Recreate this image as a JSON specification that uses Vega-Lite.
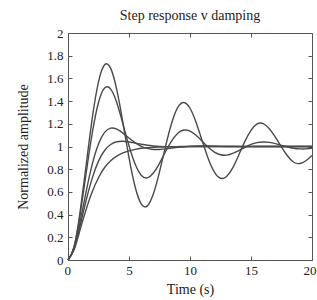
{
  "$schema": "https://vega.github.io/schema/vega-lite/v6.json",
  "width": 244,
  "height": 227,
  "autosize": {"type": "none"},
  "padding": {"left": 68, "top": 33, "right": 5, "bottom": 40},
  "background": "white",
  "title": {"text": "Step response v damping", "font": "Liberation Serif", "fontSize": 14, "fontWeight": "normal", "color": "#222", "offset": 4},
  "config": {
    "view": {"stroke": null},
    "axis": {"labelFont": "Liberation Serif", "titleFont": "Liberation Serif", "labelFontSize": 13, "titleFontSize": 14, "titleFontWeight": "normal", "labelColor": "#222", "titleColor": "#222", "domainColor": "#555", "tickColor": "#555", "grid": false}
  },
  "data": {"values": [
    {"t":0,"y":0,"z":"0.1"},{"t":0.5,"y":0.118,"z":"0.1"},{"t":1,"y":0.431,"z":"0.1"},{"t":1.5,"y":0.846,"z":"0.1"},{"t":2,"y":1.258,"z":"0.1"},{"t":2.5,"y":1.570,"z":"0.1"},{"t":3,"y":1.720,"z":"0.1"},{"t":3.5,"y":1.688,"z":"0.1"},{"t":4,"y":1.498,"z":"0.1"},{"t":4.5,"y":1.211,"z":"0.1"},{"t":5,"y":0.901,"z":"0.1"},{"t":5.5,"y":0.645,"z":"0.1"},{"t":6,"y":0.495,"z":"0.1"},{"t":6.5,"y":0.477,"z":"0.1"},{"t":7,"y":0.583,"z":"0.1"},{"t":7.5,"y":0.776,"z":"0.1"},{"t":8,"y":1.003,"z":"0.1"},{"t":8.5,"y":1.207,"z":"0.1"},{"t":9,"y":1.344,"z":"0.1"},{"t":9.5,"y":1.388,"z":"0.1"},{"t":10,"y":1.337,"z":"0.1"},{"t":10.5,"y":1.212,"z":"0.1"},{"t":11,"y":1.050,"z":"0.1"},{"t":11.5,"y":0.892,"z":"0.1"},{"t":12,"y":0.774,"z":"0.1"},{"t":12.5,"y":0.720,"z":"0.1"},{"t":13,"y":0.736,"z":"0.1"},{"t":13.5,"y":0.811,"z":"0.1"},{"t":14,"y":0.925,"z":"0.1"},{"t":14.5,"y":1.045,"z":"0.1"},{"t":15,"y":1.142,"z":"0.1"},{"t":15.5,"y":1.199,"z":"0.1"},{"t":16,"y":1.202,"z":"0.1"},{"t":16.5,"y":1.157,"z":"0.1"},{"t":17,"y":1.082,"z":"0.1"},{"t":17.5,"y":0.994,"z":"0.1"},{"t":18,"y":0.916,"z":"0.1"},{"t":18.5,"y":0.861,"z":"0.1"},{"t":19,"y":0.850,"z":"0.1"},{"t":19.5,"y":0.874,"z":"0.1"},{"t":20,"y":0.921,"z":"0.1"},
    {"t":0,"y":0,"z":"0.2"},{"t":0.5,"y":0.115,"z":"0.2"},{"t":1,"y":0.405,"z":"0.2"},{"t":1.5,"y":0.775,"z":"0.2"},{"t":2,"y":1.127,"z":"0.2"},{"t":2.5,"y":1.388,"z":"0.2"},{"t":3,"y":1.515,"z":"0.2"},{"t":3.5,"y":1.505,"z":"0.2"},{"t":4,"y":1.385,"z":"0.2"},{"t":4.5,"y":1.200,"z":"0.2"},{"t":5,"y":1.006,"z":"0.2"},{"t":5.5,"y":0.845,"z":"0.2"},{"t":6,"y":0.747,"z":"0.2"},{"t":6.5,"y":0.724,"z":"0.2"},{"t":7,"y":0.766,"z":"0.2"},{"t":7.5,"y":0.852,"z":"0.2"},{"t":8,"y":0.956,"z":"0.2"},{"t":8.5,"y":1.050,"z":"0.2"},{"t":9,"y":1.117,"z":"0.2"},{"t":9.5,"y":1.145,"z":"0.2"},{"t":10,"y":1.136,"z":"0.2"},{"t":10.5,"y":1.099,"z":"0.2"},{"t":11,"y":1.046,"z":"0.2"},{"t":11.5,"y":0.993,"z":"0.2"},{"t":12,"y":0.951,"z":"0.2"},{"t":12.5,"y":0.927,"z":"0.2"},{"t":13,"y":0.924,"z":"0.2"},{"t":13.5,"y":0.939,"z":"0.2"},{"t":14,"y":0.964,"z":"0.2"},{"t":14.5,"y":0.993,"z":"0.2"},{"t":15,"y":1.018,"z":"0.2"},{"t":15.5,"y":1.034,"z":"0.2"},{"t":16,"y":1.040,"z":"0.2"},{"t":16.5,"y":1.036,"z":"0.2"},{"t":17,"y":1.025,"z":"0.2"},{"t":17.5,"y":1.010,"z":"0.2"},{"t":18,"y":0.996,"z":"0.2"},{"t":18.5,"y":0.985,"z":"0.2"},{"t":19,"y":0.979,"z":"0.2"},{"t":19.5,"y":0.979,"z":"0.2"},{"t":20,"y":0.984,"z":"0.2"},
    {"t":0,"y":0,"z":"0.5"},{"t":0.5,"y":0.104,"z":"0.5"},{"t":1,"y":0.340,"z":"0.5"},{"t":1.5,"y":0.610,"z":"0.5"},{"t":2,"y":0.849,"z":"0.5"},{"t":2.5,"y":1.023,"z":"0.5"},{"t":3,"y":1.124,"z":"0.5"},{"t":3.5,"y":1.162,"z":"0.5"},{"t":4,"y":1.153,"z":"0.5"},{"t":4.5,"y":1.118,"z":"0.5"},{"t":5,"y":1.075,"z":"0.5"},{"t":5.5,"y":1.034,"z":"0.5"},{"t":6,"y":1.002,"z":"0.5"},{"t":6.5,"y":0.983,"z":"0.5"},{"t":7,"y":0.974,"z":"0.5"},{"t":7.5,"y":0.974,"z":"0.5"},{"t":8,"y":0.979,"z":"0.5"},{"t":8.5,"y":0.986,"z":"0.5"},{"t":9,"y":0.993,"z":"0.5"},{"t":9.5,"y":0.998,"z":"0.5"},{"t":10,"y":1.002,"z":"0.5"},{"t":10.5,"y":1.004,"z":"0.5"},{"t":11,"y":1.004,"z":"0.5"},{"t":11.5,"y":1.004,"z":"0.5"},{"t":12,"y":1.003,"z":"0.5"},{"t":12.5,"y":1.001,"z":"0.5"},{"t":13,"y":1.0,"z":"0.5"},{"t":13.5,"y":1.0,"z":"0.5"},{"t":14,"y":0.999,"z":"0.5"},{"t":14.5,"y":0.999,"z":"0.5"},{"t":15,"y":0.999,"z":"0.5"},{"t":15.5,"y":1.0,"z":"0.5"},{"t":16,"y":1.0,"z":"0.5"},{"t":16.5,"y":1.0,"z":"0.5"},{"t":17,"y":1.0,"z":"0.5"},{"t":17.5,"y":1.0,"z":"0.5"},{"t":18,"y":1.0,"z":"0.5"},{"t":18.5,"y":1.0,"z":"0.5"},{"t":19,"y":1.0,"z":"0.5"},{"t":19.5,"y":1.0,"z":"0.5"},{"t":20,"y":1.0,"z":"0.5"},
    {"t":0,"y":0,"z":"0.7"},{"t":0.5,"y":0.098,"z":"0.7"},{"t":1,"y":0.306,"z":"0.7"},{"t":1.5,"y":0.531,"z":"0.7"},{"t":2,"y":0.726,"z":"0.7"},{"t":2.5,"y":0.871,"z":"0.7"},{"t":3,"y":0.965,"z":"0.7"},{"t":3.5,"y":1.018,"z":"0.7"},{"t":4,"y":1.042,"z":"0.7"},{"t":4.5,"y":1.046,"z":"0.7"},{"t":5,"y":1.040,"z":"0.7"},{"t":5.5,"y":1.030,"z":"0.7"},{"t":6,"y":1.020,"z":"0.7"},{"t":6.5,"y":1.011,"z":"0.7"},{"t":7,"y":1.005,"z":"0.7"},{"t":7.5,"y":1.001,"z":"0.7"},{"t":8,"y":0.999,"z":"0.7"},{"t":8.5,"y":0.998,"z":"0.7"},{"t":9,"y":0.998,"z":"0.7"},{"t":9.5,"y":0.998,"z":"0.7"},{"t":10,"y":0.999,"z":"0.7"},{"t":10.5,"y":0.999,"z":"0.7"},{"t":11,"y":1.0,"z":"0.7"},{"t":11.5,"y":1.0,"z":"0.7"},{"t":12,"y":1.0,"z":"0.7"},{"t":12.5,"y":1.0,"z":"0.7"},{"t":13,"y":1.0,"z":"0.7"},{"t":13.5,"y":1.0,"z":"0.7"},{"t":14,"y":1.0,"z":"0.7"},{"t":14.5,"y":1.0,"z":"0.7"},{"t":15,"y":1.0,"z":"0.7"},{"t":15.5,"y":1.0,"z":"0.7"},{"t":16,"y":1.0,"z":"0.7"},{"t":16.5,"y":1.0,"z":"0.7"},{"t":17,"y":1.0,"z":"0.7"},{"t":17.5,"y":1.0,"z":"0.7"},{"t":18,"y":1.0,"z":"0.7"},{"t":18.5,"y":1.0,"z":"0.7"},{"t":19,"y":1.0,"z":"0.7"},{"t":19.5,"y":1.0,"z":"0.7"},{"t":20,"y":1.0,"z":"0.7"},
    {"t":0,"y":0,"z":"1.0"},{"t":0.5,"y":0.09,"z":"1.0"},{"t":1,"y":0.27,"z":"1.0"},{"t":1.5,"y":0.45,"z":"1.0"},{"t":2,"y":0.605,"z":"1.0"},{"t":2.5,"y":0.725,"z":"1.0"},{"t":3,"y":0.815,"z":"1.0"},{"t":3.5,"y":0.875,"z":"1.0"},{"t":4,"y":0.915,"z":"1.0"},{"t":4.5,"y":0.943,"z":"1.0"},{"t":5,"y":0.962,"z":"1.0"},{"t":5.5,"y":0.975,"z":"1.0"},{"t":6,"y":0.984,"z":"1.0"},{"t":6.5,"y":0.989,"z":"1.0"},{"t":7,"y":0.993,"z":"1.0"},{"t":7.5,"y":0.995,"z":"1.0"},{"t":8,"y":0.997,"z":"1.0"},{"t":8.5,"y":0.998,"z":"1.0"},{"t":9,"y":0.999,"z":"1.0"},{"t":9.5,"y":1.0,"z":"1.0"},{"t":10,"y":1.0,"z":"1.0"},{"t":10.5,"y":1.0,"z":"1.0"},{"t":11,"y":1.0,"z":"1.0"},{"t":11.5,"y":1.0,"z":"1.0"},{"t":12,"y":1.0,"z":"1.0"},{"t":12.5,"y":1.0,"z":"1.0"},{"t":13,"y":1.0,"z":"1.0"},{"t":13.5,"y":1.0,"z":"1.0"},{"t":14,"y":1.0,"z":"1.0"},{"t":14.5,"y":1.0,"z":"1.0"},{"t":15,"y":1.0,"z":"1.0"},{"t":15.5,"y":1.0,"z":"1.0"},{"t":16,"y":1.0,"z":"1.0"},{"t":16.5,"y":1.0,"z":"1.0"},{"t":17,"y":1.0,"z":"1.0"},{"t":17.5,"y":1.0,"z":"1.0"},{"t":18,"y":1.0,"z":"1.0"},{"t":18.5,"y":1.0,"z":"1.0"},{"t":19,"y":1.0,"z":"1.0"},{"t":19.5,"y":1.0,"z":"1.0"},{"t":20,"y":1.0,"z":"1.0"}
  ]},
  "layer": [
    {
      "mark": {"type": "line", "interpolate": "natural", "color": "#4a4a4a", "strokeWidth": 1.4},
      "encoding": {
        "x": {"field": "t", "type": "quantitative", "scale": {"domain": [0, 20], "nice": false},
              "axis": {"orient": "bottom", "values": [0, 5, 10, 15, 20], "title": "Time (s)", "tickSize": -4, "labelPadding": 8, "labelFlush": true, "labelFlushOffset": 4, "titlePadding": 5}},
        "y": {"field": "y", "type": "quantitative", "scale": {"domain": [0, 2], "nice": false},
              "axis": {"orient": "left", "values": [0, 0.2, 0.4, 0.6, 0.8, 1, 1.2, 1.4, 1.6, 1.8, 2], "format": "~g", "title": "Normalized amplitude", "tickSize": -4, "labelPadding": 9, "titlePadding": 16}},
        "detail": {"field": "z"}
      }
    },
    {
      "mark": {"type": "line", "interpolate": "natural", "opacity": 0},
      "encoding": {
        "x": {"field": "t", "type": "quantitative", "scale": {"domain": [0, 20], "nice": false},
              "axis": {"orient": "top", "values": [0, 5, 10, 15, 20], "title": null, "labels": false, "tickSize": -4}},
        "y": {"field": "y", "type": "quantitative", "scale": {"domain": [0, 2], "nice": false},
              "axis": {"orient": "right", "values": [0, 0.2, 0.4, 0.6, 0.8, 1, 1.2, 1.4, 1.6, 1.8, 2], "title": null, "labels": false, "tickSize": -4}},
        "detail": {"field": "z"}
      }
    }
  ],
  "resolve": {"axis": {"x": "independent", "y": "independent"}}
}
